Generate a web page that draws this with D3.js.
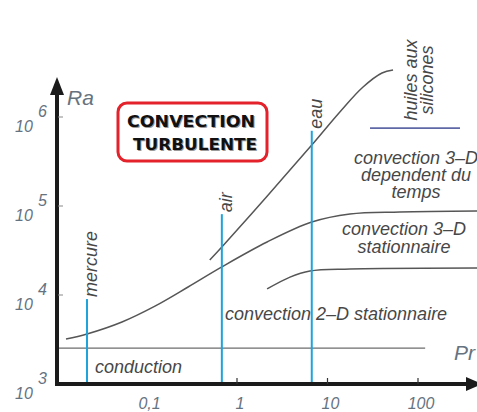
<!DOCTYPE html>
<html>
<head>
<meta charset="utf-8">
<script src="https://cdn.jsdelivr.net/npm/d3@7"></script>
<style>
  html, body { margin: 0; padding: 0; background: #fff; }
  svg { display: block; }
  .note { font-family: "Liberation Sans", Arial, sans-serif; font-style: italic; font-size: 18px; fill: #474747; }
  .axislab { font-family: "Liberation Sans", Arial, sans-serif; font-style: italic; fill: #66737f; }
</style>
</head>
<body>
<svg id="chart" width="477" height="412"></svg>
<script>
// Prandtl ticks (x) and Rayleigh ticks (y)
const prTicks = [0.1, 1, 10, 100];
const prTickLabels = ["0,1", "1", "10", "100"];
const raTicks = [1e3, 1e4, 1e5, 1e6];
const raExponents = ["3", "4", "5", "6"];

// Regime boundaries as [Pr, Ra] points
const boundary3D = [[0.0129, 3200], [0.022, 3650], [0.0536, 4980], [0.124, 7500], [0.288, 12300],
  [0.68, 20700], [2.15, 39400], [6.7, 66000], [17.7, 81300], [63, 85700], [450, 88000]];
const boundaryTurbulent = [[0.50, 24700], [0.68, 34600], [2.15, 129000], [6.7, 484000],
  [13.7, 1.14e6], [24.7, 2.17e6], [40, 3.12e6], [53, 3.37e6]];
const boundary2D3D = [[2.15, 11700], [3.85, 15900], [6.4, 18600], [17.7, 19600], [450, 20100]];
const conductionLimit = [[0.01, 2530], [120, 2530]];
const siliconeOils = [[29.5, 7.5e5], [291, 7.5e5]];

// Fluids: Prandtl number and top of the marker line
const fluidNames = ["mercure", "air", "eau"];
const fluidPr = [0.022, 0.68, 6.7];
const fluidRaTop = [9000, 81000, 700000];

const svg = d3.select("#chart");
const x = d3.scaleLog().domain([0.01, 100]).range([56, 418]);
const y = d3.scaleLog().domain([1e3, 1e6]).range([384, 117]);

const smooth = d3.line().x(d => x(d[0])).y(d => y(d[1])).curve(d3.curveCatmullRom.alpha(0.5));
const straight = d3.line().x(d => x(d[0])).y(d => y(d[1]));

// boundaries
[boundary3D, boundaryTurbulent, boundary2D3D].forEach(pts => {
  svg.append("path").attr("d", smooth(pts))
    .attr("fill", "none").attr("stroke", "#565656").attr("stroke-width", 1.5);
});
svg.append("path").attr("d", straight(conductionLimit))
  .attr("fill", "none").attr("stroke", "#6d6d6d").attr("stroke-width", 1.3);
svg.append("path").attr("d", straight(siliconeOils))
  .attr("fill", "none").attr("stroke", "#5f68a6").attr("stroke-width", 1.8);

// fluid marker lines
const fluids = fluidNames.map((n, i) => ({ name: n, pr: fluidPr[i], top: fluidRaTop[i] }));
svg.selectAll("line.fluid").data(fluids).join("line").attr("class", "fluid")
  .attr("x1", d => x(d.pr)).attr("x2", d => x(d.pr))
  .attr("y1", y(1e3)).attr("y2", d => y(d.top))
  .attr("stroke", "#1ea3dc").attr("stroke-width", 2);
svg.selectAll("text.fluid").data(fluids).join("text").attr("class", "note fluid")
  .attr("transform", d => `translate(${x(d.pr) + 10},${y(d.top) - 2}) rotate(-90)`)
  .text(d => d.name);

// axes
const y0 = y(1e3), xl = x(0.01);
svg.append("line").attr("x1", xl).attr("x2", 470).attr("y1", y0).attr("y2", y0)
  .attr("stroke", "#1b1b1b").attr("stroke-width", 4);
svg.append("path").attr("d", `M482,${y0} L466,${y0 - 7} L466,${y0 + 7} Z`).attr("fill", "#1b1b1b");
svg.append("line").attr("x1", xl + 1).attr("x2", xl + 1).attr("y1", y0 + 2).attr("y2", 90)
  .attr("stroke", "#1b1b1b").attr("stroke-width", 4);
svg.append("path").attr("d", `M${xl + 1},77 L${xl - 6},95 L${xl + 8},95 Z`).attr("fill", "#1b1b1b");

// x ticks and labels
svg.selectAll("line.xt").data(prTicks.slice(1)).join("line").attr("class", "xt")
  .attr("x1", d => x(d)).attr("x2", d => x(d)).attr("y1", y0).attr("y2", y0 - 6)
  .attr("stroke", "#333").attr("stroke-width", 1.2);
svg.selectAll("text.xl").data(prTicks).join("text").attr("class", "axislab xl")
  .attr("x", d => x(d) + 3).attr("y", 409).attr("text-anchor", "middle")
  .attr("font-size", 16).text((d, i) => prTickLabels[i]);

// y ticks and labels (10 with exponent)
svg.selectAll("line.yt").data(raTicks.slice(1)).join("line").attr("class", "yt")
  .attr("x1", xl + 2).attr("x2", xl + 7).attr("y1", d => y(d)).attr("y2", d => y(d))
  .attr("stroke", "#888").attr("stroke-width", 1);
const yl = svg.selectAll("g.yl").data(raTicks).join("g").attr("class", "yl")
  .attr("transform", d => `translate(0,${y(d)})`);
yl.append("text").attr("class", "axislab").attr("x", 15).attr("y", 15)
  .attr("font-size", 16).text("10");
yl.append("text").attr("class", "axislab").attr("x", 38).attr("y", 0)
  .attr("font-size", 16).text((d, i) => raExponents[i]);

svg.append("text").attr("class", "axislab").attr("x", 67).attr("y", 105)
  .attr("font-size", 21).text("Ra");
svg.append("text").attr("class", "axislab").attr("x", 454).attr("y", 360)
  .attr("font-size", 21).text("Pr");

// regime labels
function block(lines, cx, by, dy) {
  const t = svg.append("text").attr("class", "note").attr("text-anchor", "middle");
  lines.forEach((s, i) => t.append("tspan").attr("x", cx).attr("y", by + i * dy).text(s));
}
block(["convection 3–D", "dependent du", "temps"], 416, 164, 17);
block(["convection 3–D", "stationnaire"], 404, 235, 18);
svg.append("text").attr("class", "note").attr("x", 225).attr("y", 320).text("convection 2–D stationnaire");
svg.append("text").attr("class", "note").attr("x", 95).attr("y", 373).text("conduction");
svg.append("text").attr("class", "note").attr("text-anchor", "middle")
  .attr("transform", "translate(417,80) rotate(-90)").text("huiles aux");
svg.append("text").attr("class", "note").attr("text-anchor", "middle")
  .attr("transform", "translate(433,80) rotate(-90)").text("silicones");

// turbulent regime badge
svg.append("rect").attr("x", 118).attr("y", 103).attr("width", 149).attr("height", 58)
  .attr("rx", 9).attr("fill", "#fff").attr("stroke", "#e3222b").attr("stroke-width", 3);
const badge = [["CONVECTION", 127, 127, 128], ["TURBULENTE", 133, 150, 124]];
badge.forEach(([s, bx, by, w]) => {
  [["#9a9a9a", 1, 1], ["#111", 0, 0]].forEach(([c, ox, oy]) => {
    svg.append("text").attr("x", bx + ox).attr("y", by + oy)
      .attr("textLength", w).attr("lengthAdjust", "spacingAndGlyphs")
      .attr("font-family", "'DejaVu Sans', sans-serif").attr("font-weight", 900)
      .attr("font-size", 15).attr("fill", c).text(s);
  });
});
</script>
</body>
</html>
